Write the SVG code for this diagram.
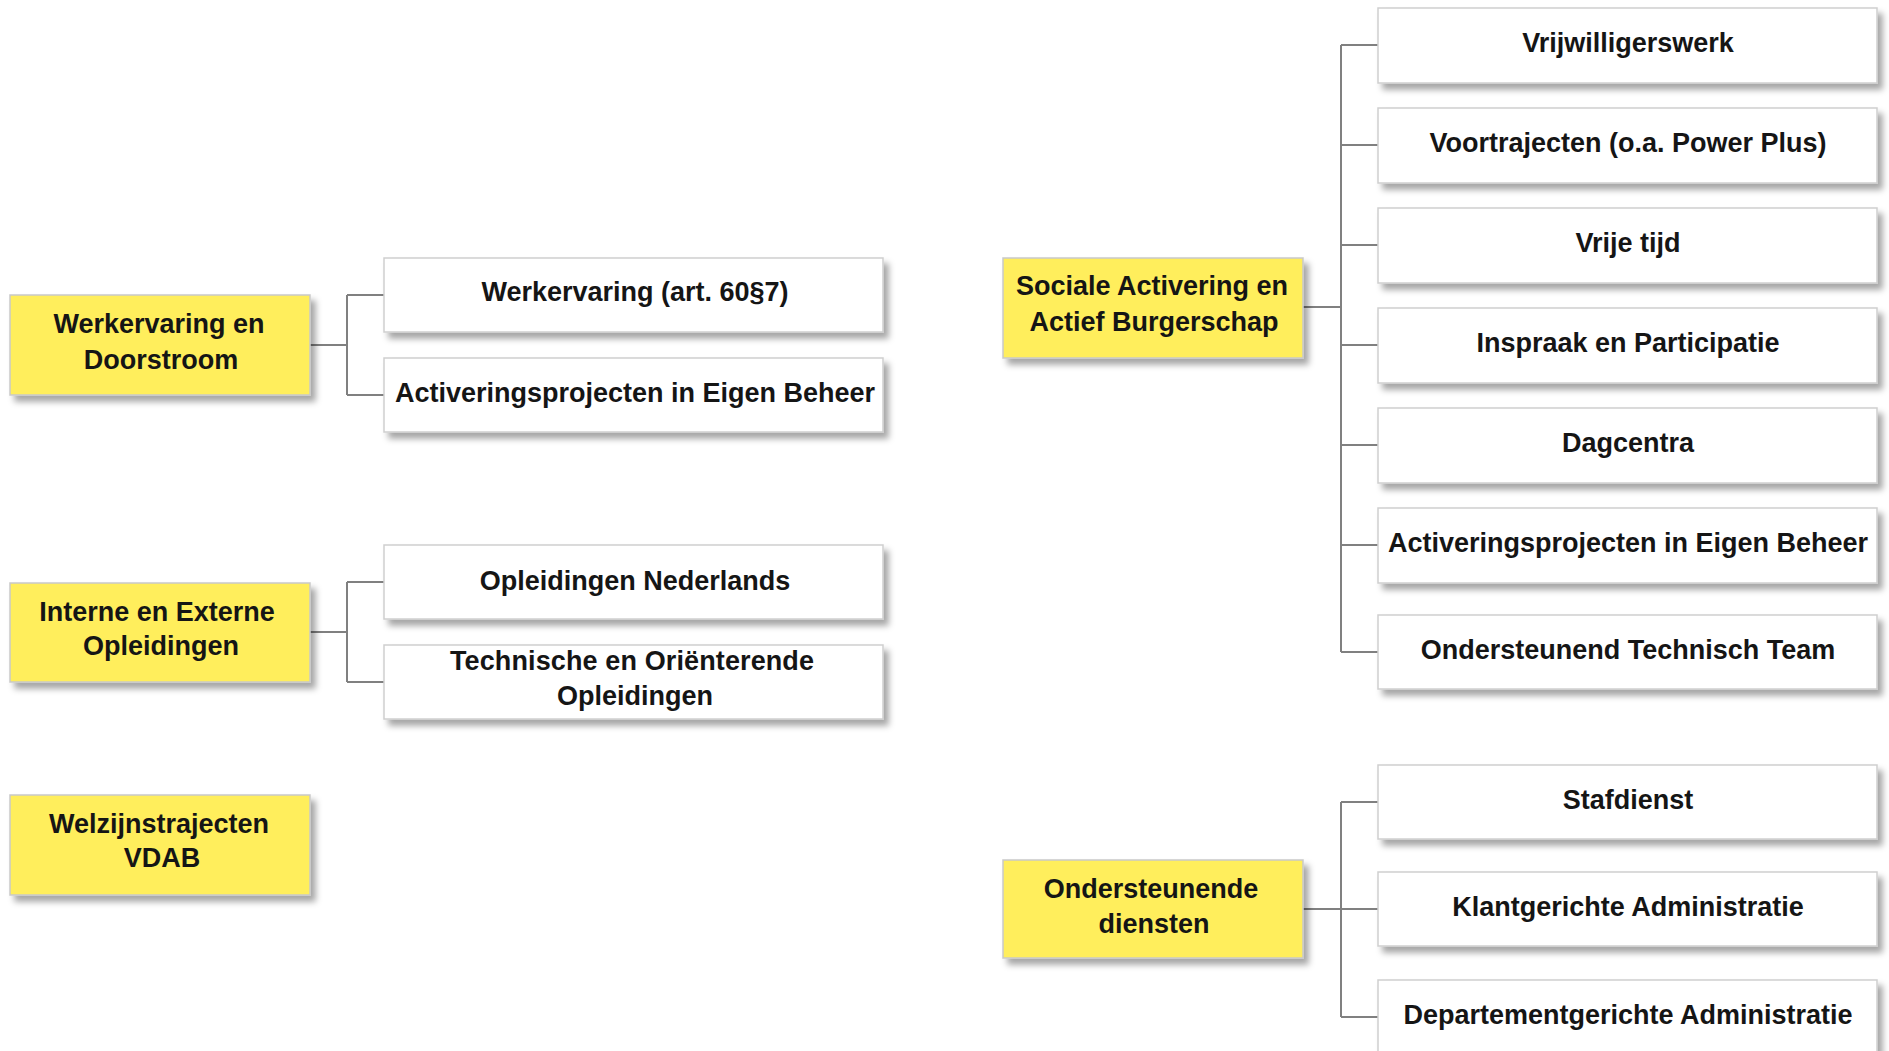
<svg xmlns="http://www.w3.org/2000/svg" width="1889" height="1051" viewBox="0 0 1889 1051">
<style>
  .bg{fill:#ffffff}
  .y{fill:#FFEE5C;stroke:#c9c9c9;stroke-width:1.5}
  .w{fill:#ffffff;stroke:#cfcfcf;stroke-width:1.5}
  .t{font-family:"Liberation Sans",Arial,Helvetica,sans-serif;font-weight:bold;font-size:27px;fill:#151515;text-anchor:middle}
  .c{fill:none;stroke:#808080;stroke-width:2}
</style>
<defs>
  <filter id="sh" x="-10%" y="-20%" width="130%" height="160%">
    <feDropShadow dx="5" dy="6" stdDeviation="3" flood-color="#000" flood-opacity="0.35"/>
  </filter>
</defs>
<rect class="bg" x="0" y="0" width="1889" height="1051"/>

<g id="connectors">
  <path class="c" d="M310 345H347M347 295V395M347 295H384M347 395H384"/>
  <path class="c" d="M310 632H347M347 582V682M347 582H384M347 682H384"/>
  <path class="c" d="M1303 307H1341M1341 45V652M1341 45H1378M1341 145H1378M1341 245H1378M1341 345H1378M1341 445H1378M1341 545H1378M1341 652H1378"/>
  <path class="c" d="M1303 909H1341M1341 802V1017M1341 802H1378M1341 909H1378M1341 1017H1378"/>
</g>

<g id="werkervaring-doorstroom">
  <rect class="y" filter="url(#sh)" x="10" y="295" width="300" height="100"/>
  <text class="t" x="159" y="333">Werkervaring en</text>
  <text class="t" x="161" y="369">Doorstroom</text>
</g>
<g id="werkervaring-art60">
  <rect class="w" filter="url(#sh)" x="384" y="258" width="499" height="74"/>
  <text class="t" x="635" y="301">Werkervaring (art. 60§7)</text>
</g>
<g id="activeringsprojecten-links">
  <rect class="w" filter="url(#sh)" x="384" y="358" width="499" height="74"/>
  <text class="t" x="635" y="402">Activeringsprojecten in Eigen Beheer</text>
</g>

<g id="interne-externe-opleidingen">
  <rect class="y" filter="url(#sh)" x="10" y="583" width="300" height="99"/>
  <text class="t" x="157" y="621">Interne en Externe</text>
  <text class="t" x="161" y="655">Opleidingen</text>
</g>
<g id="opleidingen-nederlands">
  <rect class="w" filter="url(#sh)" x="384" y="545" width="499" height="74"/>
  <text class="t" x="635" y="590">Opleidingen Nederlands</text>
</g>
<g id="technische-orienterende">
  <rect class="w" filter="url(#sh)" x="384" y="645" width="499" height="74"/>
  <text class="t" x="632" y="670" textLength="364">Technische en Oriënterende</text>
  <text class="t" x="635" y="705">Opleidingen</text>
</g>

<g id="welzijnstrajecten-vdab">
  <rect class="y" filter="url(#sh)" x="10" y="795" width="300" height="100"/>
  <text class="t" x="159" y="833">Welzijnstrajecten</text>
  <text class="t" x="162" y="867">VDAB</text>
</g>

<g id="sociale-activering">
  <rect class="y" filter="url(#sh)" x="1003" y="258" width="300" height="100"/>
  <text class="t" x="1152" y="295">Sociale Activering en</text>
  <text class="t" x="1154" y="331">Actief Burgerschap</text>
</g>
<g id="vrijwilligerswerk">
  <rect class="w" filter="url(#sh)" x="1378" y="8" width="499" height="75"/>
  <text class="t" x="1628" y="52">Vrijwilligerswerk</text>
</g>
<g id="voortrajecten">
  <rect class="w" filter="url(#sh)" x="1378" y="108" width="499" height="75"/>
  <text class="t" x="1628" y="152">Voortrajecten (o.a. Power Plus)</text>
</g>
<g id="vrije-tijd">
  <rect class="w" filter="url(#sh)" x="1378" y="208" width="499" height="75"/>
  <text class="t" x="1628" y="252">Vrije tijd</text>
</g>
<g id="inspraak-participatie">
  <rect class="w" filter="url(#sh)" x="1378" y="308" width="499" height="75"/>
  <text class="t" x="1628" y="352">Inspraak en Participatie</text>
</g>
<g id="dagcentra">
  <rect class="w" filter="url(#sh)" x="1378" y="408" width="499" height="75"/>
  <text class="t" x="1628" y="452">Dagcentra</text>
</g>
<g id="activeringsprojecten-rechts">
  <rect class="w" filter="url(#sh)" x="1378" y="508" width="499" height="75"/>
  <text class="t" x="1628" y="552">Activeringsprojecten in Eigen Beheer</text>
</g>
<g id="ondersteunend-technisch-team">
  <rect class="w" filter="url(#sh)" x="1378" y="615" width="499" height="74"/>
  <text class="t" x="1628" y="659">Ondersteunend Technisch Team</text>
</g>

<g id="ondersteunende-diensten">
  <rect class="y" filter="url(#sh)" x="1003" y="860" width="300" height="98"/>
  <text class="t" x="1151" y="898">Ondersteunende</text>
  <text class="t" x="1154" y="933">diensten</text>
</g>
<g id="stafdienst">
  <rect class="w" filter="url(#sh)" x="1378" y="765" width="499" height="74"/>
  <text class="t" x="1628" y="809">Stafdienst</text>
</g>
<g id="klantgerichte-administratie">
  <rect class="w" filter="url(#sh)" x="1378" y="872" width="499" height="74"/>
  <text class="t" x="1628" y="916">Klantgerichte Administratie</text>
</g>
<g id="departementgerichte-administratie">
  <rect class="w" filter="url(#sh)" x="1378" y="980" width="499" height="75"/>
  <text class="t" x="1628" y="1024">Departementgerichte Administratie</text>
</g>
</svg>
